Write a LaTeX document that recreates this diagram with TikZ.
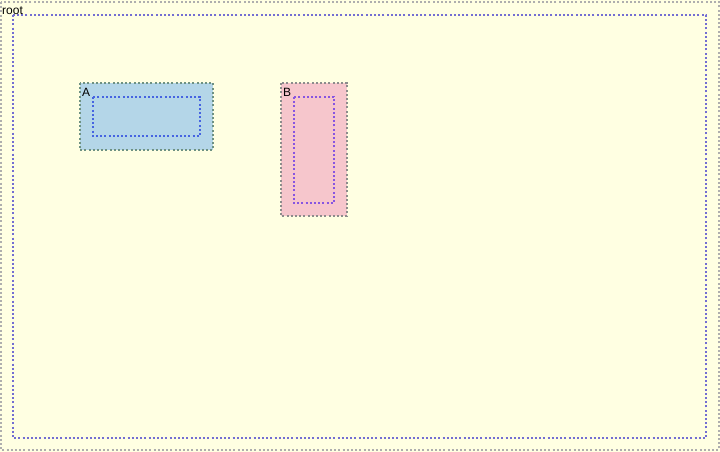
\documentclass[tikz,border=0pt]{standalone}
\usepackage{fontspec}
\setmainfont{Liberation Sans}
\usetikzlibrary{positioning}

\definecolor{bgyellow}{RGB}{255,255,226}
\definecolor{fillA}{RGB}{180,214,232}
\definecolor{fillB}{RGB}{246,198,204}
\definecolor{edgegray}{RGB}{140,140,140}
\definecolor{edgeA}{RGB}{110,145,130}
\definecolor{innerA}{RGB}{70,100,225}
\definecolor{innerB}{RGB}{135,85,225}
\definecolor{innerroot}{RGB}{115,110,210}

\tikzset{
  dotline/.style={line width=2pt, dash pattern=on 2pt off 2.2pt},
  boxlabel/.style={anchor=north west, inner sep=0pt, font=\fontsize{12}{13}\selectfont},
}

\begin{document}
\begin{tikzpicture}[x=1pt, y=-1pt]
	\useasboundingbox (0,0) rectangle (720,452);
	% 背景
	\fill[bgyellow] (0,0) rectangle (720,452);
	\draw[dotline, edgegray!70] (1,2) rectangle (719,450);
	\draw[dotline, innerroot] (13,15) rectangle (706,438);
	\node[boxlabel] (root) at (2,7) {root};
	
	% 方框 A
	\fill[fillA] (80,83) rectangle (213,150);
	\draw[dotline, edgeA] (80,83) rectangle (213,150);
	\draw[dotline, innerA] (93,97) rectangle (200,136);
	\node[boxlabel] (A) at (82,88) {A};
	
	% 方框 B
	\fill[fillB] (281,83) rectangle (347,216);
	\draw[dotline, edgegray] (281,83) rectangle (347,216);
	\draw[dotline, innerB] (294,97) rectangle (334,203);
	\node[boxlabel] (B) at (283,88) {B};
\end{tikzpicture}
\end{document}
